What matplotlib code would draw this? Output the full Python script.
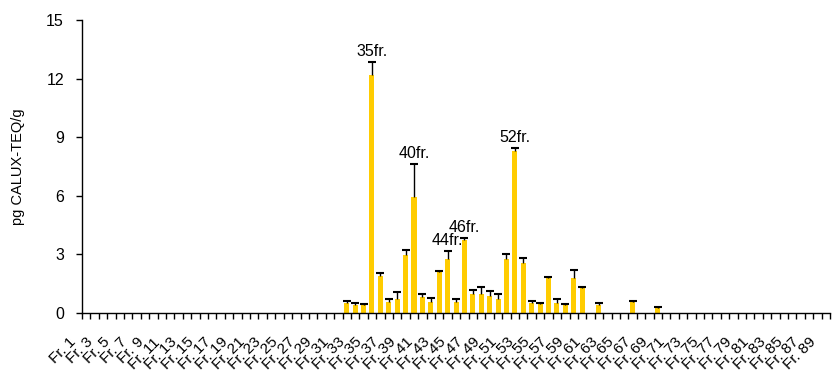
import matplotlib
matplotlib.use("Agg")
import matplotlib.pyplot as plt
import matplotlib.transforms as mtransforms
import numpy as np

plt.rcParams['font.family'] = ['Liberation Sans', 'DejaVu Sans']

# 分画番号 Fr.1 - Fr.89
n_fr = 89
categories = ["Fr. %d" % i for i in range(1, n_fr + 1)]

# 測定のある分画と値 (pg CALUX-TEQ/g) と誤差 (+側のみ)
measured_fr = [32, 33, 34, 35, 36, 37, 38, 39, 40, 41, 42, 43, 44, 45, 46,
               47, 48, 49, 50, 51, 52, 53, 54, 55, 56, 57, 58, 59, 60, 62, 66, 69]
values = [0.52, 0.42, 0.43, 12.2, 1.9, 0.58, 0.7, 2.95, 5.95, 0.8, 0.58, 2.1, 2.76, 0.58, 3.72,
          0.97, 0.97, 0.88, 0.72, 2.78, 8.3, 2.56, 0.52, 0.45, 1.8, 0.52, 0.4, 1.78, 1.3, 0.4, 0.54, 0.25]
errors = [0.07, 0.1, 0.03, 0.65, 0.15, 0.14, 0.38, 0.3, 1.7, 0.15, 0.18, 0.05, 0.42, 0.13, 0.14,
          0.2, 0.35, 0.26, 0.23, 0.25, 0.15, 0.26, 0.1, 0.08, 0.03, 0.18, 0.06, 0.4, 0.04, 0.13, 0.07, 0.07]

# ピークのラベル
peak_fr = [35, 40, 44, 46, 52]
peak_labels = ["35fr.", "40fr.", "44fr.", "46fr.", "52fr."]

# 全分画の配列を作る
y = np.zeros(n_fr)
err = np.zeros(n_fr)
for f, v, e in zip(measured_fr, values, errors):
    y[f - 1] = v
    err[f - 1] = e
x = np.arange(n_fr)

fig = plt.figure(figsize=(8.34, 3.72), dpi=100)
ax = fig.add_axes([0.0983, 0.1586, 0.897, 0.7874])

ax.bar(x, y, width=0.6, color='#FFCC00', zorder=2)
has = y > 0
_, caps, _ = ax.errorbar(x[has], y[has], yerr=[np.zeros(has.sum()), err[has]], fmt='none',
                         ecolor='black', elinewidth=1.0, capsize=3, capthick=1.5, zorder=3)
caps[0].set_visible(False)  # 下側のキャップは消す

for f, lab in zip(peak_fr, peak_labels):
    i = f - 1
    ax.text(x[i], y[i] + err[i] + 0.15, lab, ha='center', va='bottom', fontsize=11.5)

ax.set_ylim(0, 15)
ax.set_xlim(-0.5, n_fr - 0.5)
ax.set_yticks([0, 3, 6, 9, 12, 15])
ax.tick_params(axis='y', direction='out', length=4, labelsize=11.5, width=1, pad=9)
ax.set_ylabel("pg CALUX-TEQ/g", fontsize=10.5, labelpad=15)

# 目盛りは分画の境界、ラベルは奇数番号のみ
ax.set_xticks(x[::2])
ax.set_xticklabels(categories[::2], rotation=45, ha='right', va='top',
                   rotation_mode='anchor', fontsize=11)
ax.set_xticks(np.arange(-0.5, n_fr, 1), minor=True)
ax.tick_params(axis='x', which='major', length=0, pad=16)
ax.tick_params(axis='x', which='minor', direction='out', length=4, width=1)
offset = mtransforms.ScaledTranslation(-17 / 100, 0, fig.dpi_scale_trans)
for lbl in ax.get_xticklabels():
    lbl.set_transform(lbl.get_transform() + offset)

for s in ['top', 'right']:
    ax.spines[s].set_visible(False)
ax.spines['left'].set_linewidth(1)
ax.spines['bottom'].set_linewidth(1)

fig.savefig("out.png", dpi=100)
